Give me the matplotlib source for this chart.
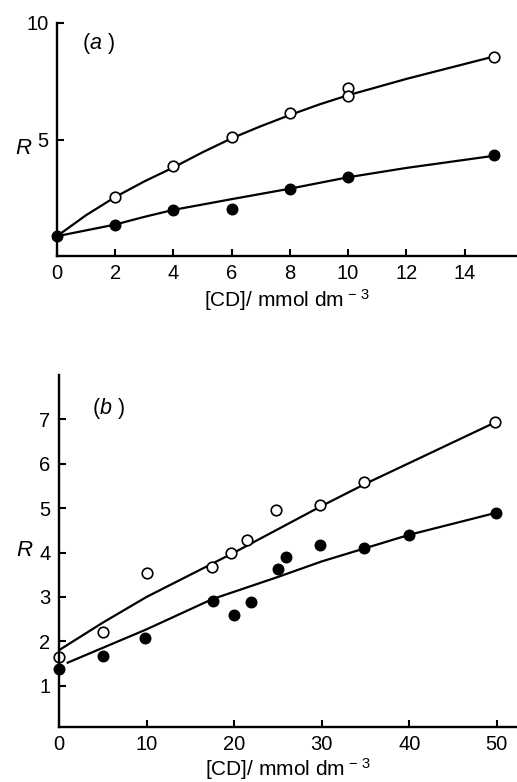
import matplotlib.pyplot as plt

plt.rcParams['font.family'] = ['Liberation Sans', 'DejaVu Sans']
plt.rcParams['mathtext.fontset'] = 'custom'
plt.rcParams['mathtext.rm'] = 'Liberation Sans'
plt.rcParams['mathtext.it'] = 'Liberation Sans:italic'

# panel (a): measured points
a_open_x = [2, 4, 6, 8, 10, 10, 15]
a_open_y = [2.53, 3.86, 5.1, 6.12, 7.2, 6.87, 8.56]
a_fill_x = [0, 2, 4, 6, 8, 10, 15]
a_fill_y = [0.85, 1.35, 1.98, 2.02, 2.89, 3.4, 4.33]
# panel (a): fitted curves
a_open_cx = [0, 1, 2, 3, 4, 5, 6, 7, 8, 9, 10, 12, 15]
a_open_cy = [0.85, 1.75, 2.53, 3.2, 3.8, 4.45, 5.05, 5.57, 6.05, 6.5, 6.9, 7.6, 8.56]
a_fill_cx = [0, 1, 2, 3, 4, 6, 8, 10, 12, 15]
a_fill_cy = [0.85, 1.1, 1.35, 1.68, 1.98, 2.44, 2.89, 3.38, 3.78, 4.3]

# panel (b): measured points
b_open_x = [0, 5, 10, 17.5, 19.7, 21.5, 24.8, 29.8, 34.8, 49.8]
b_open_y = [1.65, 2.2, 3.55, 3.68, 4.0, 4.28, 4.95, 5.07, 5.6, 6.95]
b_fill_x = [0, 5, 9.8, 17.6, 20, 21.9, 25, 25.9, 29.8, 34.8, 40, 49.9]
b_fill_y = [1.37, 1.67, 2.07, 2.9, 2.6, 2.88, 3.62, 3.9, 4.17, 4.1, 4.4, 4.88]
# panel (b): fitted lines
b_open_cx = [0, 5, 10, 20, 30, 35, 50]
b_open_cy = [1.8, 2.42, 3.0, 4.0, 5.05, 5.55, 6.95]
b_fill_cx = [1, 10, 17.5, 25, 30, 35, 40, 50]
b_fill_cy = [1.52, 2.27, 2.95, 3.45, 3.8, 4.1, 4.4, 4.9]

xlab = '[CD]/ mmol dm$^{\\,-\\,3}$'

fig = plt.figure(figsize=(5.17, 7.82), dpi=100)
ax1 = fig.add_axes([0.110, 0.6726, 0.890, 0.298])
ax2 = fig.add_axes([0.114, 0.0703, 0.886, 0.4502])

ms = 7.6
lw = 1.6


def style(ax):
    for s in ['top', 'right']:
        ax.spines[s].set_visible(False)
    for s in ['left', 'bottom']:
        ax.spines[s].set_linewidth(1.7)
    ax.tick_params(direction='in', length=5, width=1.5, labelsize=14.5, pad=6)


ax1.plot(a_open_cx, a_open_cy, color='black', lw=lw)
ax1.plot(a_fill_cx, a_fill_cy, color='black', lw=lw)
ax1.plot(a_open_x, a_open_y, 'o', ms=ms, mfc='white', mec='black', mew=1.2, clip_on=False)
ax1.plot(a_fill_x, a_fill_y, 'o', ms=ms, mfc='black', mec='black', clip_on=False)
ax1.set_xlim(0, 15.8)
ax1.set_ylim(0, 10)
ax1.set_xticks(range(0, 15, 2))
ax1.set_yticks([5, 10])
style(ax1)
ax1.set_xlabel(xlab, fontsize=15, labelpad=3)
ax1.set_ylabel('R', fontsize=16, style='italic', rotation=0, va='center')
ax1.yaxis.set_label_coords(-0.072, 0.463)
ax1.text(0.054, 0.914, '($\\mathit{a}$ )', transform=ax1.transAxes,
         fontsize=15.5, va='center')

ax2.plot(b_open_cx, b_open_cy, color='black', lw=lw)
ax2.plot(b_fill_cx, b_fill_cy, color='black', lw=lw)
ax2.plot(b_open_x, b_open_y, 'o', ms=ms, mfc='white', mec='black', mew=1.2, clip_on=False)
ax2.plot(b_fill_x, b_fill_y, 'o', ms=ms, mfc='black', mec='black', clip_on=False)
ax2.set_xlim(0, 52.3)
ax2.set_ylim(0.07, 8.0)
ax2.set_xticks(range(0, 51, 10))
ax2.set_yticks(range(1, 8))
style(ax2)
ax2.set_xlabel(xlab, fontsize=15, labelpad=1)
ax2.set_ylabel('R', fontsize=16, style='italic', rotation=0, va='center')
ax2.yaxis.set_label_coords(-0.075, 0.5)
ax2.text(0.072, 0.906, '($\\mathit{b}$ )', transform=ax2.transAxes,
         fontsize=15.5, va='center')

fig.savefig('out.png', dpi=100)
